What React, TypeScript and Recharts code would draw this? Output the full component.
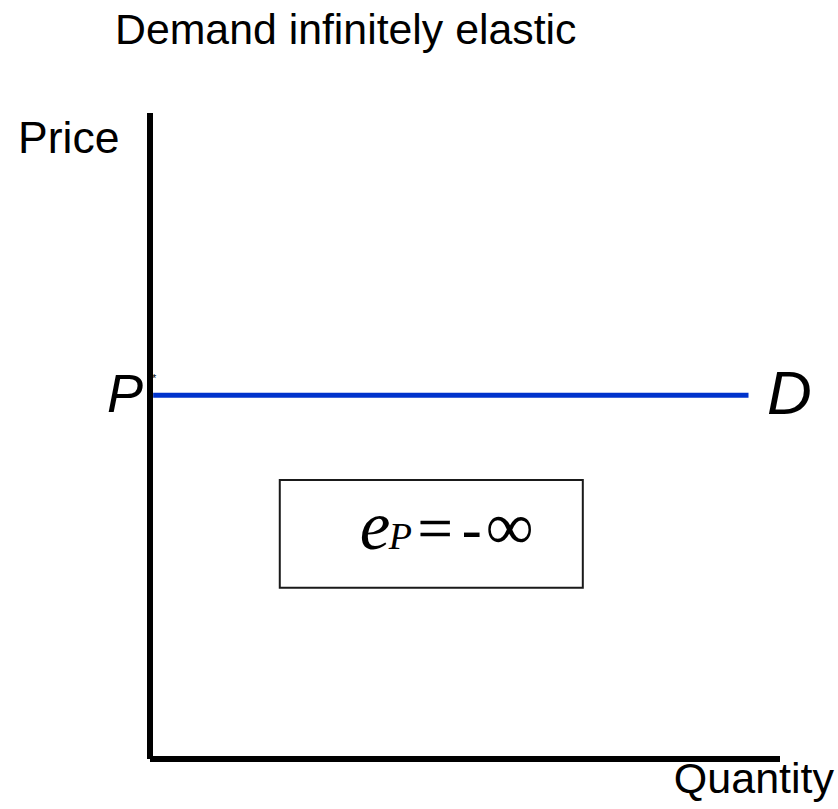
import React from "react";
import { LineChart, Line, XAxis, YAxis, ReferenceArea, ReferenceLine } from "recharts";

// ---- data ----
const quantities = [0.05, 9.5];
const priceStar = 5.63;
const boxQuantity = [2.06, 6.87];
const boxPrice = [2.65, 4.32];
const titleText = "Demand infinitely elastic";
const yLabel = "Price";
const xLabel = "Quantity";
const lineLabel = "D";
const priceLabel = "P";

const data = quantities.map((q) => ({ q, p: priceStar }));

const W = 838;
const H = 809;

const FormulaLabel = (props: any) => {
  const vb = props.viewBox || {};
  const x0 = vb.x ?? 0;
  const y0 = vb.y ?? 0;
  const base = y0 + 69;
  const serif = "'Liberation Serif', 'Times New Roman', serif";
  return (
    <g>
      <text x={x0 + 80} y={base} fontFamily={serif} fontStyle="italic" fontSize={69} fill="#000">e</text>
      <text x={x0 + 109} y={base} fontFamily={serif} fontStyle="italic" fontSize={38} fill="#000">P</text>
      <text x={x0 + 138} y={base} fontFamily={serif} fontSize={62} fill="#000" stroke="#000" strokeWidth={0.6}>=</text>
      <text x={x0 + 182} y={base} fontFamily={serif} fontSize={60} fill="#000">-</text>
      <text x={x0 + 206} y={base} fontFamily={serif} fontSize={67} fill="#000">∞</text>
    </g>
  );
};

export default function App() {
  const sans = "'Liberation Sans', Arial, Helvetica, sans-serif";
  return (
    <div style={{ position: "absolute", left: 0, top: 0, width: W, height: H, background: "#fff" }}>
      <LineChart
        width={W}
        height={H}
        data={data}
        margin={{ top: 113, right: 58, bottom: 50, left: 150 }}
      >
        <XAxis dataKey="q" type="number" domain={[0, 10]} hide />
        <YAxis type="number" domain={[0, 10]} hide />
        <ReferenceLine x={0} stroke="#000" strokeWidth={6} />
        <ReferenceLine y={0} stroke="#000" strokeWidth={6} />
        <ReferenceArea
          x1={boxQuantity[0]}
          x2={boxQuantity[1]}
          y1={boxPrice[0]}
          y2={boxPrice[1]}
          fill="#fff"
          fillOpacity={1}
          stroke="#1a1a1a"
          strokeWidth={2}
          label={<FormulaLabel />}
        />
        <Line
          dataKey="p"
          stroke="#0033cc"
          strokeWidth={5}
          dot={false}
          activeDot={false}
          isAnimationActive={false}
        />
        <text x={115} y={44} fontFamily={sans} fontSize={42.8} fill="#000">{titleText}</text>
        <text x={18} y={153} fontFamily={sans} fontSize={44.5} fill="#000">{yLabel}</text>
        <text x={834} y={793} textAnchor="end" fontFamily={sans} fontSize={43} fill="#000">{xLabel}</text>
        <text x={107} y={412} fontFamily={sans} fontStyle="italic" fontSize={54} fill="#000">{priceLabel}</text>
        <text x={152} y={382} fontFamily={sans} fontSize={11} fill="#000">*</text>
        <text x={767} y={414} fontFamily={sans} fontStyle="italic" fontSize={62} fill="#000">{lineLabel}</text>
      </LineChart>
    </div>
  );
}
